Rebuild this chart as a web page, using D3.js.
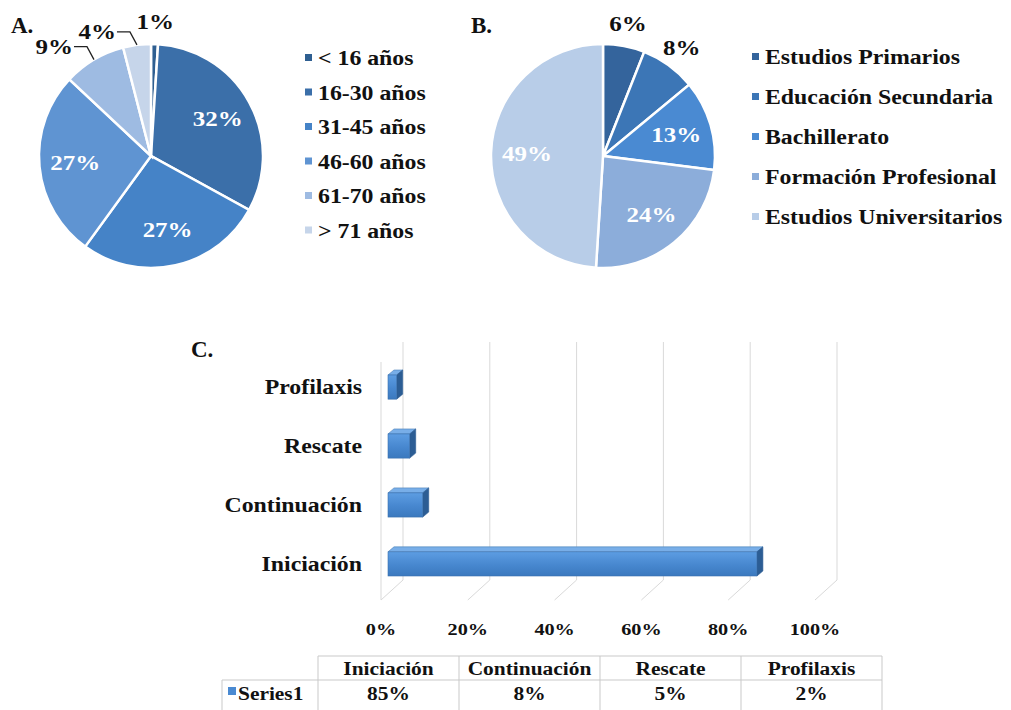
<!DOCTYPE html>
<html>
<head>
<meta charset="utf-8">
<script src="https://cdn.jsdelivr.net/npm/d3@7"></script>
<style>
  html, body { margin: 0; padding: 0; background: #ffffff; }
  svg { display: block; }
  svg text { font-family: "Liberation Serif", "Times New Roman", Tinos, "DejaVu Serif", serif; font-weight: bold; }
</style>
</head>
<body>
<svg id="fig" width="1011" height="710"></svg>
<script>
// ---- data ----
const ageLabels = ["< 16 años", "16-30 años", "31-45 años", "46-60 años", "61-70 años", "> 71 años"];
const ageValues = [1, 32, 27, 27, 9, 4];

const eduLabels = ["Estudios Primarios", "Educación Secundaria", "Bachillerato", "Formación Profesional", "Estudios Universitarios"];
const eduValues = [6, 8, 13, 24, 49];

const treatCategories = ["Iniciación", "Continuación", "Rescate", "Profilaxis"];
const treatValues = [85, 8, 5, 2];
const seriesName = "Series1";
const pctTicks = [0, 20, 40, 60, 80, 100];

// ---- styling ----
const ageColors = ["#2f5f91", "#3b6fa9", "#4583c7", "#5f94d2", "#9ebbe2", "#c6d5ea"];
const eduColors = ["#34649c", "#3c76b6", "#4a8ad2", "#8cadda", "#b8cde8"];
const SX = 1.19;   // wide setting of the serif labels

const svg = d3.select("#fig");

function label(g, x, y, s, size, anchor, fill, sx) {
  return g.append("text")
    .attr("transform", `translate(${x},${y}) scale(${sx === undefined ? SX : sx},1)`)
    .attr("text-anchor", anchor)
    .style("font-size", size + "px")
    .attr("fill", fill || "#111")
    .text(s);
}

// ---- pie with legend ----
function drawPie(cx, cy, r, names, values, colors, legendX, legendY0, legendStep) {
  const g = svg.append("g").attr("transform", `translate(${cx},${cy})`);
  const pie = d3.pie().sort(null).value(d => d)(values);
  const arc = d3.arc().innerRadius(0).outerRadius(r);
  const labelArc = d3.arc().innerRadius(r * 0.68).outerRadius(r * 0.68);

  g.selectAll("path.slice").data(pie).join("path")
    .attr("class", "slice")
    .attr("d", arc)
    .attr("fill", (d, i) => colors[i])
    .attr("stroke", "#ffffff")
    .attr("stroke-width", 2.5);

  pie.forEach((d, i) => {
    const txt = d.data + "%";
    if (d.data >= 10) {
      const [lx, ly] = labelArc.centroid(d);
      label(g, lx, ly + 7, txt, 21, "middle", "#ffffff");
    } else {
      const mid = (d.startAngle + d.endAngle) / 2;
      const ex = r * Math.sin(mid), ey = -r * Math.cos(mid);
      if (mid > Math.PI) {
        // label pulled to the left with an elbow leader line
        const ly = ey - 13;
        g.append("polyline")
          .attr("points", [[ex, ey], [ex - 7, ly], [ex - 20, ly]].map(p => p.join(",")).join(" "))
          .attr("fill", "none").attr("stroke", "#222").attr("stroke-width", 1.3);
        label(g, ex - 21, ly + 7, txt, 21, "end", "#111");
      } else {
        const rr = r + 22;
        label(g, rr * Math.sin(mid), -rr * Math.cos(mid) + 7, txt, 21, "middle", "#111");
      }
    }
  });

  const lg = svg.append("g");
  names.forEach((n, i) => {
    const y = legendY0 + i * legendStep;
    lg.append("rect").attr("x", legendX).attr("y", y - 4).attr("width", 7).attr("height", 7)
      .attr("fill", colors[i]);
    label(lg, legendX + 13, y + 7, n, 20, "start", "#111");
  });
}

label(svg, 11, 33, "A.", 23, "start", "#111", 1);
drawPie(151, 156, 112, ageLabels, ageValues, ageColors, 305, 58, 34.5);

label(svg, 471, 33, "B.", 23, "start", "#111", 1);
drawPie(603, 156, 112, eduLabels, eduValues, eduColors, 752, 57, 40);

// ---- C: 3-D style horizontal bars ----
label(svg, 191, 357, "C.", 23, "start", "#111", 1);

const x = d3.scaleLinear().domain([0, 100]).range([381, 815]);
const y = d3.scaleBand().domain(treatCategories.slice().reverse())
  .range([375, 576]).paddingInner(0.59).paddingOuter(0);

const wallDX = 22, wallDY = -20, wallTop = 342, wallBottom = 580;
const grid = svg.append("g").attr("stroke", "#d9d9d9").attr("stroke-width", 1).attr("fill", "none");
pctTicks.forEach(t => {
  const xf = x(t);
  grid.append("polyline")
    .attr("points", `${xf + wallDX},${wallTop} ${xf + wallDX},${wallBottom} ${xf},${wallBottom - wallDY}`);
});
grid.append("line").attr("x1", x(0)).attr("x2", x(0))
  .attr("y1", wallTop - wallDY).attr("y2", wallBottom - wallDY);

const axisG = svg.append("g");
pctTicks.forEach(t => label(axisG, x(t), 635, t + "%", 17, "middle", "#111"));

const defs = svg.append("defs");
const grad = defs.append("linearGradient").attr("id", "barFront")
  .attr("x1", 0).attr("y1", 0).attr("x2", 0).attr("y2", 1);
grad.append("stop").attr("offset", "0%").attr("stop-color", "#5d9de2");
grad.append("stop").attr("offset", "55%").attr("stop-color", "#4787cf");
grad.append("stop").attr("offset", "100%").attr("stop-color", "#3b79be");

const barDX = 6, barDY = -5, barShift = 7;
const bars = svg.append("g");
treatCategories.forEach((c, i) => {
  const v = treatValues[i];
  const x0 = x(0) + barShift, x1 = x(v) + barShift;
  const y0 = y(c), h = y.bandwidth();
  bars.append("polygon")
    .attr("points", [[x0, y0], [x0 + barDX, y0 + barDY], [x1 + barDX, y0 + barDY], [x1, y0]].map(p => p.join(",")).join(" "))
    .attr("fill", "#78aee8").attr("stroke", "#4a7fb8").attr("stroke-width", 0.6);
  bars.append("polygon")
    .attr("points", [[x1, y0], [x1 + barDX, y0 + barDY], [x1 + barDX, y0 + h + barDY], [x1, y0 + h]].map(p => p.join(",")).join(" "))
    .attr("fill", "#2c5d94").attr("stroke", "#2c5d94").attr("stroke-width", 0.6);
  bars.append("rect")
    .attr("x", x0).attr("y", y0).attr("width", x1 - x0).attr("height", h)
    .attr("fill", "url(#barFront)").attr("stroke", "#3a70ad").attr("stroke-width", 0.6);
  label(bars, 362, y0 + h / 2 + 7, c, 20, "end", "#111");
});

// ---- data table ----
const tbl = svg.append("g");
const col = d3.scaleBand().domain(treatCategories).range([318, 882]);
const rowTop = 656, rowMid = 680, rowBot = 712;
const tl = tbl.append("g").attr("stroke", "#c9c9c9").attr("stroke-width", 1);
tl.append("line").attr("x1", col.range()[0]).attr("x2", col.range()[1]).attr("y1", rowTop).attr("y2", rowTop);
tl.append("line").attr("x1", 222).attr("x2", col.range()[1]).attr("y1", rowMid).attr("y2", rowMid);
tl.append("line").attr("x1", 222).attr("x2", 222).attr("y1", rowMid).attr("y2", rowBot);
treatCategories.forEach(c => {
  tl.append("line").attr("x1", col(c)).attr("x2", col(c)).attr("y1", rowTop).attr("y2", rowBot);
});
tl.append("line").attr("x1", col.range()[1]).attr("x2", col.range()[1]).attr("y1", rowTop).attr("y2", rowBot);

treatCategories.forEach((c, i) => {
  const cxm = col(c) + col.bandwidth() / 2;
  label(tbl, cxm, 675, c, 18, "middle", "#111");
  label(tbl, cxm, 700, treatValues[i] + "%", 18, "middle", "#111");
});
tbl.append("rect").attr("x", 228).attr("y", 687).attr("width", 8).attr("height", 8).attr("fill", "#4a8ad2");
label(tbl, 238, 700, seriesName, 18, "start", "#111");
</script>
</body>
</html>
